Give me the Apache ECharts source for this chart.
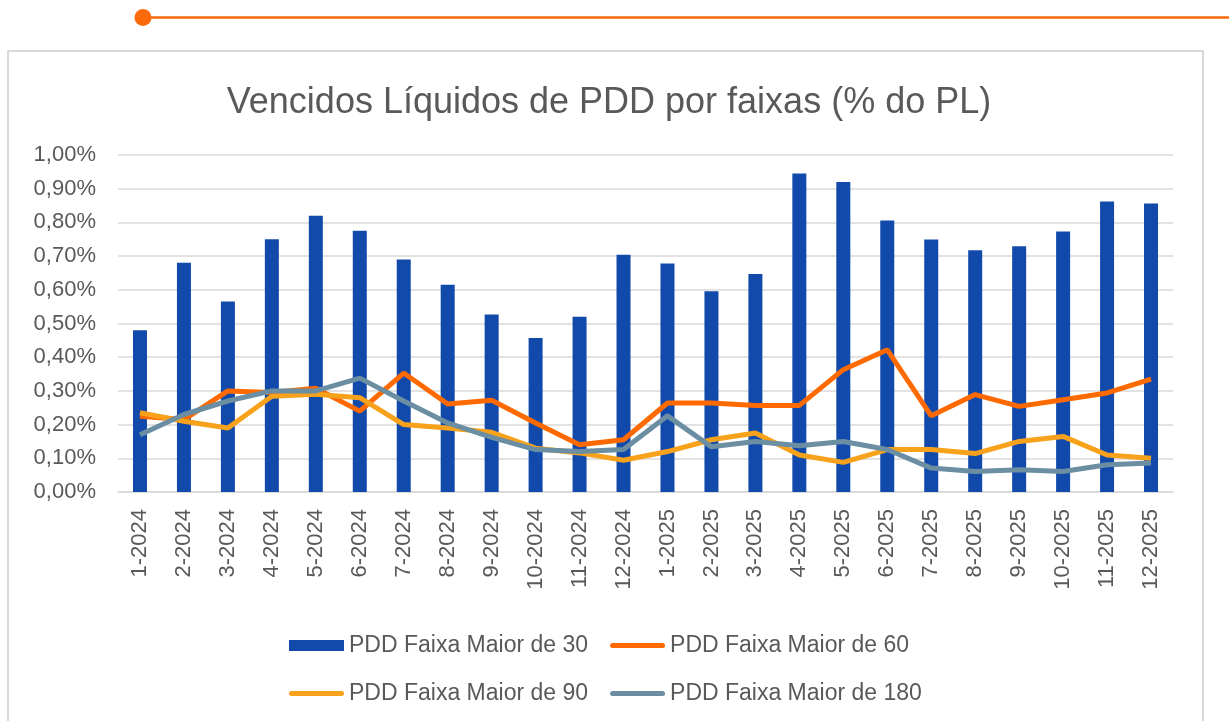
<!DOCTYPE html>
<html>
<head>
<meta charset="utf-8">
<script src="https://cdn.jsdelivr.net/npm/echarts@6/dist/echarts.min.js"></script>
<style>
  html, body { margin: 0; padding: 0; background: #fff; }
  #chart { width: 1229px; height: 721px; }
</style>
</head>
<body>
<div id="chart"></div>
<script>
// meses (eixo x)
var categories = ['1-2024', '2-2024', '3-2024', '4-2024', '5-2024', '6-2024', '7-2024', '8-2024', '9-2024', '10-2024', '11-2024', '12-2024',
    '1-2025', '2-2025', '3-2025', '4-2025', '5-2025', '6-2025', '7-2025', '8-2025', '9-2025', '10-2025', '11-2025', '12-2025'];

// valores em % do PL
var faixa30 = [0.48, 0.68, 0.565, 0.75, 0.82, 0.775, 0.69, 0.615, 0.527, 0.457, 0.52, 0.704,
    0.678, 0.596, 0.647, 0.945, 0.92, 0.806, 0.749, 0.717, 0.729, 0.773, 0.862, 0.856];
var faixa60 = [0.225, 0.215, 0.30, 0.295, 0.308, 0.24, 0.353, 0.261, 0.272, 0.205, 0.14, 0.155,
    0.264, 0.264, 0.257, 0.257, 0.363, 0.422, 0.226, 0.289, 0.254, 0.274, 0.294, 0.335];
var faixa90 = [0.235, 0.21, 0.19, 0.284, 0.29, 0.28, 0.20, 0.19, 0.177, 0.13, 0.116, 0.094,
    0.12, 0.155, 0.175, 0.11, 0.088, 0.126, 0.126, 0.114, 0.15, 0.165, 0.11, 0.10];
var faixa180 = [0.17, 0.23, 0.27, 0.30, 0.30, 0.338, 0.27, 0.205, 0.162, 0.126, 0.12, 0.126,
    0.226, 0.134, 0.15, 0.137, 0.15, 0.126, 0.071, 0.061, 0.066, 0.061, 0.081, 0.086];

var seriesNames = ['PDD Faixa Maior de 30', 'PDD Faixa Maior de 60', 'PDD Faixa Maior de 90', 'PDD Faixa Maior de 180'];

var fonte = '"Liberation Sans", Arial, sans-serif';
var cinza = '#595959';
var lineIcon = 'path://M2.5,0 H52.5 A2.5,2.5 0 0 1 52.5,5 H2.5 A2.5,2.5 0 0 1 2.5,0 Z';

var chart = echarts.init(document.getElementById('chart'));

var legendBase = {
    left: 284
    , orient: 'horizontal'
    , itemWidth: 55
    , itemHeight: 11
    , itemGap: 22
    , textStyle: { fontFamily: fonte, fontSize: 23, color: cinza }
};

var option = {
    animation: false
    , title: {
        text: 'Vencidos Líquidos de PDD por faixas (% do PL)'
        , left: 604
        , textAlign: 'center'
        , top: 80
        , textStyle: { fontFamily: fonte, fontSize: 36, fontWeight: 'normal', color: cinza }
    }
    , graphic: [
        { type: 'rect', shape: { x: 8, y: 51, width: 1195, height: 700 }, style: { fill: 'none', stroke: '#d9d9d9', lineWidth: 2 } }
        , { type: 'line', shape: { x1: 143, y1: 17.5, x2: 1229, y2: 17.5 }, style: { stroke: '#fb6a0a', lineWidth: 2.5 } }
        , { type: 'circle', shape: { cx: 143, cy: 17.5, r: 8.5 }, style: { fill: '#fb6a0a' } }
    ]
    , legend: [
        Object.assign({}, legendBase, {
            top: 629
            , data: [
                { name: seriesNames[0], icon: 'rect' }
                , { name: seriesNames[1], icon: lineIcon }
            ]
        })
        , Object.assign({}, legendBase, {
            top: 677
            , data: [
                { name: seriesNames[2], icon: lineIcon }
                , { name: seriesNames[3], icon: lineIcon }
            ]
        })
    ]
    , grid: { left: 118, right: 56, top: 155, bottom: 229 }
    , xAxis: {
        type: 'category'
        , data: categories
        , axisTick: { show: false }
        , axisLine: { lineStyle: { color: '#d9d9d9', width: 1.5 } }
        , axisLabel: { rotate: 90, margin: 17, fontFamily: fonte, fontSize: 22, color: cinza, interval: 0 }
    }
    , yAxis: {
        type: 'value'
        , min: 0
        , max: 1
        , interval: 0.1
        , axisLine: { show: false }
        , axisTick: { show: false }
        , splitLine: { lineStyle: { color: '#d9d9d9', width: 1.5 } }
        , axisLabel: {
            margin: 22, fontFamily: fonte, fontSize: 22, color: cinza
            , formatter: function (v) { return v.toFixed(2).replace('.', ',') + '%'; }
        }
    }
    , series: [
        { name: seriesNames[0], type: 'bar', data: faixa30, barWidth: 14, itemStyle: { color: '#124aab' } }
        , { name: seriesNames[1], type: 'line', data: faixa60, symbol: 'none', itemStyle: { color: '#ff6a00' }, lineStyle: { width: 5, color: '#ff6a00' } }
        , { name: seriesNames[2], type: 'line', data: faixa90, symbol: 'none', itemStyle: { color: '#f8a21c' }, lineStyle: { width: 5, color: '#f8a21c' } }
        , { name: seriesNames[3], type: 'line', data: faixa180, symbol: 'none', itemStyle: { color: '#6b8ea2' }, lineStyle: { width: 5, color: '#6b8ea2' } }
    ]
};

chart.setOption(option);
</script>
</body>
</html>
